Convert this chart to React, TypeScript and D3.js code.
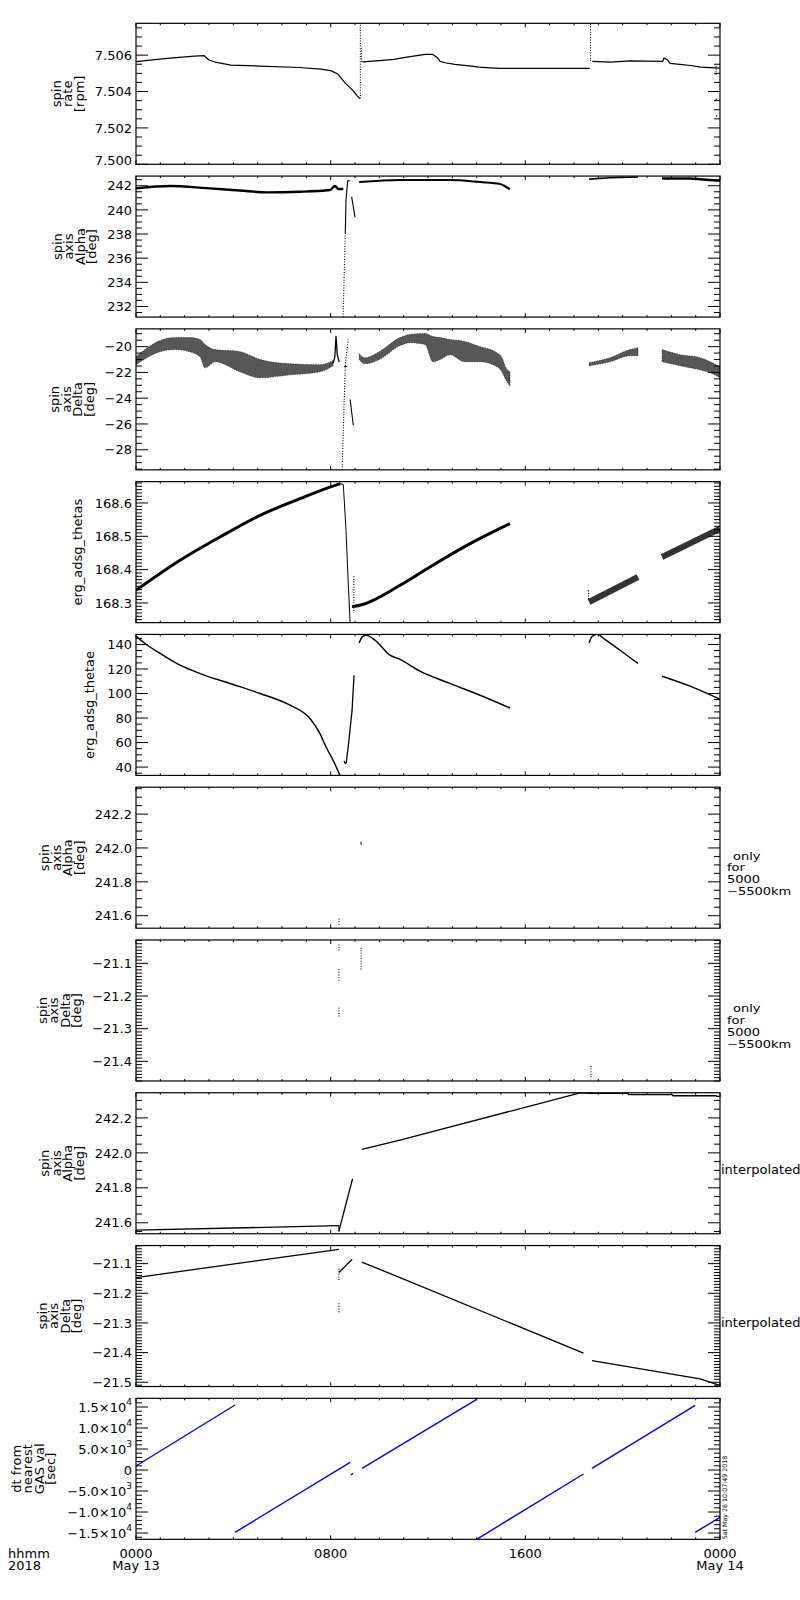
import React from 'react';
import * as d3 from 'd3';

type P = [number, number];
type B = [number, number, number];

// ---------- x axis ----------
const xDomain: [number, number] = [0, 24];
const xMajorHours = [0, 8, 16, 24];
const xMajorLabels = ['0000', '0800', '1600', '0000'];
const xDateLabels = ['May 13', '', '', 'May 14'];
const xCornerLabels = ['hhmm', '2018'];
const stampText = 'Sat May 26 10:07:49 2018';

// ---------- panel 1 : spin rate ----------
const rateSeg1: P[] = [[0, 7.50564], [0.58, 7.50573], [1.4, 7.50584], [2.4, 7.50595], [2.8, 7.50597], [3.0, 7.50573], [3.25, 7.50562], [3.9, 7.50545], [5.1, 7.5054], [6.7, 7.50532], [7.6, 7.50523], [8.0, 7.50515], [8.3, 7.50496], [8.6, 7.50446], [8.9, 7.50408], [9.1, 7.50375], [9.2, 7.50361]];
const rateSeg2: P[] = [[9.3, 7.50563], [10.0, 7.5057], [10.6, 7.50577], [11.0, 7.50586], [11.4, 7.50595], [11.9, 7.50604], [12.2, 7.50604], [12.4, 7.50584], [12.5, 7.50566], [12.7, 7.50558], [13.1, 7.50549], [13.7, 7.50541], [14.1, 7.50534], [14.55, 7.5053], [14.95, 7.50527], [18.65, 7.50527]];
const rateSeg3: P[] = [[18.75, 7.50566], [19.5, 7.50562], [20.3, 7.50568], [21.65, 7.50566], [21.7, 7.50584], [21.85, 7.50573], [21.95, 7.50555], [22.35, 7.50549], [22.8, 7.50543], [23.2, 7.50534], [24, 7.50529]];
const rateSpike1: P[] = [[9.22, 7.50361], [9.22, 7.5077]];
const rateSpike2: P[] = [[9.27, 7.5064], [9.27, 7.5056]];
const rateSpike3: P[] = [[18.68, 7.50566], [18.68, 7.50777]];
const rateSpike4: P[] = [[23.84, 7.5054], [23.84, 7.5049]];
const rateDots: P[] = [[23.84, 7.50358], [23.86, 7.50266]];

// ---------- panel 2 : spin axis Alpha ----------
const alphaSeg1: P[] = [[0, 241.78], [1.4, 241.98], [2.9, 241.8], [4.27, 241.6], [5.37, 241.45], [6.74, 241.5], [7.97, 241.65], [8.18, 241.98], [8.31, 241.73], [8.52, 241.73]];
const alphaDrop: P[] = [[8.51, 231.12], [8.6, 238.0]];
const alphaRise: P[] = [[8.6, 238.0], [8.63, 240.8], [8.7, 242.4], [8.78, 242.42]];
const alphaArc: P[] = [[8.86, 241.1], [8.92, 240.4], [9.0, 239.4]];
const alphaSeg2: P[] = [[9.17, 242.3], [10.85, 242.47], [12.9, 242.47], [14.14, 242.3], [14.96, 242.14], [15.17, 241.95], [15.37, 241.7]];
const alphaSeg3: P[] = [[18.62, 242.55], [19.48, 242.66], [20.63, 242.72]];
const alphaSeg4: P[] = [[21.62, 242.6], [22.77, 242.6], [24, 242.41]];

// ---------- panel 3 : spin axis Delta (band: hour, upper, lower) ----------
const deltaBand1: B[] = [[0, -20.78, -21.41], [0.99, -19.53, -20.39], [1.6, -19.3, -20.23], [2.2, -19.3, -20.39], [2.63, -19.45, -20.78], [2.84, -19.84, -21.64], [3.25, -20.23, -21.17], [4.27, -20.39, -21.95], [5.1, -21.0, -22.42], [6.33, -21.33, -22.19], [7.56, -21.4, -21.95], [8.1, -21.09, -21.48]];
const deltaSpike: P[] = [[8.1, -21.3], [8.17, -20.8], [8.22, -19.2], [8.27, -20.6], [8.35, -21.2]];
const deltaDrop: P[] = [[8.47, -29.56], [8.6, -21.5], [8.72, -19.45]];
const deltaArc: P[] = [[8.8, -24.1], [8.93, -26.1]];
const deltaDash: P[] = [[8.55, -21.55], [8.68, -21.55]];
const deltaBand2: B[] = [[9.17, -20.55, -21.0], [9.4, -20.86, -21.33], [10.0, -20.39, -21.0], [10.85, -19.3, -19.92], [11.26, -19.06, -19.69], [11.88, -18.98, -19.84], [12.2, -19.22, -21.17], [12.5, -19.3, -21.0], [12.9, -19.45, -20.63], [13.5, -19.6, -21.17], [14.14, -20.0, -21.17], [14.76, -20.39, -21.48], [15.04, -20.86, -21.95], [15.2, -21.64, -22.58], [15.37, -21.95, -23.05]];
const deltaBand3: B[] = [[18.62, -21.25, -21.48], [19.48, -20.86, -21.17], [20.3, -20.23, -20.7], [20.63, -20.08, -20.7]];
const deltaBand4: B[] = [[21.62, -20.23, -21.17], [22.36, -20.63, -21.48], [23.18, -20.86, -21.8], [23.6, -21.17, -22.03], [24, -21.56, -22.42]];

// ---------- panel 4 : erg_adsg_thetas ----------
const thetasSeg1: P[] = [[0, 168.338], [1.81, 168.428], [3.45, 168.498], [5.1, 168.563], [6.74, 168.613], [8.18, 168.653], [8.4, 168.658]];
const thetasDrop: P[] = [[8.4, 168.658], [8.52, 168.655], [8.63, 168.518], [8.73, 168.348], [8.8, 168.241]];
const thetasDots: P[] = [[8.95, 168.38], [8.95, 168.27]];
const thetasSeg2: P[] = [[8.88, 168.289], [9.2, 168.293], [10.85, 168.353], [12.08, 168.408], [13.73, 168.478], [15.37, 168.538]];
const thetasLead: P[] = [[18.6, 168.338], [18.6, 168.31]];
const thetasSeg3: P[] = [[18.62, 168.303], [20.63, 168.378]];
const thetasSeg4: P[] = [[21.62, 168.438], [24, 168.523]];

// ---------- panel 5 : erg_adsg_thetae ----------
const thetaeSeg1: P[] = [[0, 146.8], [0.37, 140.8], [0.99, 132.7], [1.81, 123.1], [2.63, 116.3], [3.86, 108.2], [5.1, 100], [6.33, 90.5], [7.15, 79.6], [7.56, 67.3], [7.81, 56.4], [8.1, 45.5], [8.38, 33.3]];
const thetaeSeg2: P[] = [[8.55, 45.0], [8.6, 42.9], [8.64, 43.5], [8.72, 56.4], [8.88, 86.4], [8.96, 115]];
const thetaeSeg3: P[] = [[9.17, 141.3], [9.3, 146.2], [9.45, 147.6], [9.82, 143.5], [10.44, 131.3], [10.85, 127.8], [11.67, 118.2], [12.9, 108.2], [14.14, 98.6], [15.37, 88.2]];
const thetaeSeg4: P[] = [[18.62, 141.3], [18.74, 146.5], [18.95, 148.2], [19.28, 143.9], [19.89, 135.3], [20.63, 124.5]];
const thetaeSeg5: P[] = [[21.62, 114.1], [22.77, 106], [24, 95.3]];

// ---------- panel 6 : Alpha (5000-5500km) ----------
const alphaKmA: P[] = [[9.25, 242.037], [9.25, 242.019]];
const alphaKmB: P[] = [[8.34, 241.582], [8.34, 241.539]];

// ---------- panel 7 : Delta (5000-5500km) ----------
const deltaKmA: P[] = [[8.34, -21.042], [8.34, -21.062]];
const deltaKmB: P[] = [[8.34, -21.118], [8.34, -21.157]];
const deltaKmC: P[] = [[8.34, -21.236], [8.34, -21.263]];
const deltaKmD: P[] = [[9.25, -21.052], [9.25, -21.121]];
const deltaKmE: P[] = [[18.7, -21.414], [18.7, -21.455]];

// ---------- panel 8 : Alpha interpolated ----------
const alphaIntSeg1: P[] = [[0, 241.558], [8.34, 241.583]];
const alphaIntTick: P[] = [[8.34, 241.583], [8.34, 241.548]];
const alphaIntSeg2: P[] = [[8.34, 241.554], [8.9, 241.852]];
const alphaIntSeg3: P[] = [[9.28, 242.02], [10.85, 242.073], [18.25, 242.343], [18.74, 242.34], [20.22, 242.34], [20.25, 242.333], [22.03, 242.333], [22.06, 242.327], [23.84, 242.327], [23.87, 242.323], [24, 242.323]];

// ---------- panel 9 : Delta interpolated ----------
const deltaIntSeg1: P[] = [[0, -21.147], [8.34, -21.052]];
const deltaIntDotsA: P[] = [[8.34, -21.117], [8.34, -21.156]];
const deltaIntDotsB: P[] = [[8.34, -21.234], [8.34, -21.264]];
const deltaIntSeg2: P[] = [[8.34, -21.13], [8.88, -21.085]];
const deltaIntSeg3: P[] = [[9.28, -21.095], [10.85, -21.147], [18.39, -21.402]];
const deltaIntSeg4: P[] = [[18.74, -21.427], [23.18, -21.489], [24, -21.511]];

// ---------- panel 10 : dt from nearest GAS val ----------
const dtSeg1: P[] = [[0, 952], [4.07, 15476]];
const dtSeg2: P[] = [[4.07, -14833], [8.8, 1833]];
const dtSeg3: P[] = [[8.83, -1190], [8.92, -790]];
const dtSeg4: P[] = [[9.29, 400], [14.0, 16833]];
const dtSeg5: P[] = [[14.0, -16500], [18.39, -952]];
const dtSeg6: P[] = [[18.74, 400], [22.98, 15400]];
const dtSeg7: P[] = [[22.98, -14833], [24, -11262]];

// ---------- axis ranges / titles ----------
const yDomains: [number, number][] = [
  [7.5, 7.50775], [231.12, 242.8], [-29.56, -18.62], [168.241, 168.664], [33.2, 148.2],
  [241.526, 242.359], [-21.46, -21.0285], [241.537, 242.344], [-21.5145, -21.039], [-16500, 17070],
];
const yMajorSteps = [0.002, 2, 2, 0.1, 20, 0.2, 0.1, 0.2, 0.1, 5000];
const yMinorSteps = [0.0005, 0.5, 0.5, 0.01, 5, 0.05, 0.01, 0.05, 0.01, 1000];
const yDecimals = [3, 0, 0, 1, 0, 1, 1, 1, 1, -1];
const yTitles: string[][] = [
  ['spin', 'rate', '[rpm]'],
  ['spin', 'axis', 'Alpha', '[deg]'],
  ['spin', 'axis', 'Delta', '[deg]'],
  ['erg_adsg_thetas'],
  ['erg_adsg_thetae'],
  ['spin', 'axis', 'Alpha', '[deg]'],
  ['spin', 'axis', 'Delta', '[deg]'],
  ['spin', 'axis', 'Alpha', '[deg]'],
  ['spin', 'axis', 'Delta', '[deg]'],
  ['dt from', 'nearest', 'GAS val', '[sec]'],
];
const rightNotes: string[][] = [[], [], [], [], [], ['only', 'for', '5000', '\u22125500km'], ['only', 'for', '5000', '\u22125500km'], ['interpolated'], ['interpolated'], []];

type Seg = { pts?: P[]; band?: B[]; kind: 'line' | 'dash' | 'dots' | 'band'; w?: number; color?: string; smooth?: boolean; op?: number };

const panelSegs: Seg[][] = [
  [
    { pts: rateSeg1, kind: 'line', w: 1.2 }, { pts: rateSeg2, kind: 'line', w: 1.2 }, { pts: rateSeg3, kind: 'line', w: 1.2 },
    { pts: rateSpike1, kind: 'dash' }, { pts: rateSpike2, kind: 'dash' }, { pts: rateSpike3, kind: 'dash' }, { pts: rateSpike4, kind: 'dash' },
    { pts: rateDots, kind: 'dots' },
  ],
  [
    { pts: alphaSeg1, kind: 'line', w: 2.4, smooth: true }, { pts: alphaDrop, kind: 'dash' }, { pts: alphaRise, kind: 'line', w: 1.1 },
    { pts: alphaArc, kind: 'line', w: 1.1 }, { pts: alphaSeg2, kind: 'line', w: 2, smooth: true }, { pts: alphaSeg3, kind: 'line', w: 1.6 },
    { pts: alphaSeg4, kind: 'line', w: 2.6 },
  ],
  [
    { band: deltaBand1, kind: 'band' }, { pts: deltaSpike, kind: 'line', w: 1.3 }, { pts: deltaDrop, kind: 'dash' },
    { pts: deltaArc, kind: 'line', w: 1.1 }, { pts: deltaDash, kind: 'line', w: 1 }, { band: deltaBand2, kind: 'band' },
    { band: deltaBand3, kind: 'band' }, { band: deltaBand4, kind: 'band' },
  ],
  [
    { pts: thetasSeg1, kind: 'line', w: 3, smooth: true }, { pts: thetasDrop, kind: 'line', w: 1 }, { pts: thetasDots, kind: 'dash' },
    { pts: thetasSeg2, kind: 'line', w: 3, smooth: true }, { pts: thetasLead, kind: 'dash' }, { pts: thetasSeg3, kind: 'line', w: 6, op: 0.8 },
    { pts: thetasSeg4, kind: 'line', w: 6, op: 0.8 },
  ],
  [
    { pts: thetaeSeg1, kind: 'line', w: 1.4, smooth: true }, { pts: thetaeSeg2, kind: 'line', w: 1.3 }, { pts: thetaeSeg3, kind: 'line', w: 1.4, smooth: true },
    { pts: thetaeSeg4, kind: 'line', w: 1.4, smooth: true }, { pts: thetaeSeg5, kind: 'line', w: 1.4, smooth: true },
  ],
  [{ pts: alphaKmA, kind: 'line', w: 1 }, { pts: alphaKmB, kind: 'dash' }],
  [
    { pts: deltaKmA, kind: 'dash' }, { pts: deltaKmB, kind: 'dash' }, { pts: deltaKmC, kind: 'dash' },
    { pts: deltaKmD, kind: 'dash' }, { pts: deltaKmE, kind: 'dash' },
  ],
  [
    { pts: alphaIntSeg1, kind: 'line', w: 1.3 }, { pts: alphaIntTick, kind: 'line', w: 1 },
    { pts: alphaIntSeg2, kind: 'line', w: 1.3 }, { pts: alphaIntSeg3, kind: 'line', w: 1.3 },
  ],
  [
    { pts: deltaIntSeg1, kind: 'line', w: 1.3 }, { pts: deltaIntDotsA, kind: 'dash' }, { pts: deltaIntDotsB, kind: 'dash' },
    { pts: deltaIntSeg2, kind: 'line', w: 1.3 }, { pts: deltaIntSeg3, kind: 'line', w: 1.3 }, { pts: deltaIntSeg4, kind: 'line', w: 1.3 },
  ],
  [
    { pts: dtSeg1, kind: 'line', w: 1.4, color: '#0000ff' }, { pts: dtSeg2, kind: 'line', w: 1.4, color: '#0000ff' },
    { pts: dtSeg3, kind: 'line', w: 1.4, color: '#0000ff' }, { pts: dtSeg4, kind: 'line', w: 1.4, color: '#0000ff' },
    { pts: dtSeg5, kind: 'line', w: 1.4, color: '#0000ff' }, { pts: dtSeg6, kind: 'line', w: 1.4, color: '#0000ff' },
    { pts: dtSeg7, kind: 'line', w: 1.4, color: '#0000ff' },
  ],
];

// ---------- layout ----------
const W = 800, H = 1600;
const X0 = 136, X1 = 720;
const TOP0 = 23.3, PITCH = 152.78, PH = 141;
const FONT = '"DejaVu Sans", Verdana, sans-serif';
const FS = 13;
const NOTE_FS = 10;
const NOTE_PITCH = 11.7;

let measureCtx: CanvasRenderingContext2D | null = null;
function textWidth(s: string, size: number): number {
  try {
    if (!measureCtx) measureCtx = document.createElement('canvas').getContext('2d');
    if (measureCtx) {
      measureCtx.font = `${size}px "DejaVu Sans"`;
      return measureCtx.measureText(s).width;
    }
  } catch (e) { /* ignore */ }
  return s.length * size * 0.62;
}

function stepTicks(dom: [number, number], step: number): number[] {
  const k0 = Math.ceil(dom[0] / step - 1e-7);
  const k1 = Math.floor(dom[1] / step + 1e-7);
  const out: number[] = [];
  for (let k = k0; k <= k1; k++) out.push(+(k * step).toFixed(8));
  return out;
}

function fmtLabel(v: number, dec: number): { main: string; sup?: string } {
  if (dec >= 0) return { main: v.toFixed(dec).replace('-', '\u2212') };
  if (v === 0) return { main: '0' };
  const e = Math.floor(Math.log10(Math.abs(v)) + 1e-9);
  const m = v / Math.pow(10, e);
  return { main: m.toFixed(1).replace('-', '\u2212') + '\u00d710', sup: String(e) };
}

function Panel({ i }: { i: number }) {
  const top = TOP0 + i * PITCH;
  const bottom = top + PH;
  const dom = yDomains[i];
  const x = d3.scaleLinear().domain(xDomain).range([X0, X1]);
  const y = d3.scaleLinear().domain(dom).range([bottom, top]);
  const line = d3.line<P>().x(d => x(d[0])).y(d => y(d[1]));
  const smoothLine = d3.line<P>().x(d => x(d[0])).y(d => y(d[1])).curve(d3.curveMonotoneX);
  const area = d3.area<B>().x(d => x(d[0])).y0(d => y(d[2])).y1(d => y(d[1])).curve(d3.curveMonotoneX);
  const majors = stepTicks(dom, yMajorSteps[i]);
  const minorsAll = stepTicks(dom, yMinorSteps[i]);
  const minors = minorsAll.filter(v => !majors.some(m => Math.abs(m - v) < yMinorSteps[i] * 0.01));
  const labels = majors.map(v => fmtLabel(v, yDecimals[i]));
  const widths = labels.map(l => textWidth(l.main, FS) + (l.sup ? textWidth(l.sup, 9) + 1 : 0));
  const maxW = Math.max(...widths);
  const labelRight = X0 - 4;
  const titleLines = yTitles[i];
  const multi = titleLines.length > 1;
  const lastBase = labelRight - maxW - (multi ? 11 : 13);
  const cy = (top + bottom) / 2;
  const hoursAll = d3.range(0, 25);
  const clipId = `clip${i}`;
  const notes = rightNotes[i];

  return (
    <g>
      <defs>
        <clipPath id={clipId}>
          <rect x={X0} y={top} width={X1 - X0} height={PH} />
        </clipPath>
      </defs>
      {/* data */}
      <g clipPath={`url(#${clipId})`}>
        {panelSegs[i].map((s, k) => {
          const col = s.color || '#000';
          if (s.kind === 'band' && s.band) {
            return <path key={k} d={area(s.band) || ''} fill={col} fillOpacity={0.66} stroke={col} strokeOpacity={0.6} strokeWidth={0.9} strokeDasharray="1.5 1" />;
          }
          if (s.kind === 'dots' && s.pts) {
            return (
              <g key={k}>
                {s.pts.map((p, j) => <rect key={j} x={x(p[0]) - 0.6} y={y(p[1]) - 0.6} width={1.3} height={1.3} fill={col} />)}
              </g>
            );
          }
          if (s.kind === 'dash' && s.pts) {
            return <path key={k} d={line(s.pts) || ''} fill="none" stroke={col} strokeWidth={1.1} strokeDasharray="1 1.6" />;
          }
          const gen = s.smooth ? smoothLine : line;
          return <path key={k} d={gen(s.pts || []) || ''} fill="none" stroke={col} strokeOpacity={s.op || 1} strokeWidth={s.w || 1} strokeLinejoin="round" />;
        })}
      </g>
      {/* frame */}
      <rect x={X0} y={top} width={X1 - X0} height={PH} fill="none" stroke="#000" strokeWidth={1.2} />
      {/* x ticks */}
      {hoursAll.map(h => {
        const len = xMajorHours.includes(h) ? 4 : 2;
        const xx = x(h);
        return (
          <g key={`xt${h}`}>
            <line x1={xx} x2={xx} y1={top} y2={top + len} stroke="#000" strokeWidth={1} />
            <line x1={xx} x2={xx} y1={bottom} y2={bottom - len} stroke="#000" strokeWidth={1} />
          </g>
        );
      })}
      {/* y ticks both sides */}
      {majors.map(v => (
        <g key={`ym${v}`}>
          <line x1={X0} x2={X0 + 12} y1={y(v)} y2={y(v)} stroke="#000" strokeWidth={1} />
          <line x1={X1} x2={X1 - 12} y1={y(v)} y2={y(v)} stroke="#000" strokeWidth={1} />
        </g>
      ))}
      {minors.map(v => (
        <g key={`yn${v}`}>
          <line x1={X0} x2={X0 + 6} y1={y(v)} y2={y(v)} stroke="#000" strokeWidth={1} />
          <line x1={X1} x2={X1 - 6} y1={y(v)} y2={y(v)} stroke="#000" strokeWidth={1} />
        </g>
      ))}
      {/* y tick labels */}
      {majors.map((v, k) => {
        const yy = Math.min(y(v), bottom - 4);
        const l = labels[k];
        return (
          <text key={`yl${v}`} x={labelRight} y={yy} dy="0.36em" textAnchor="end" fontSize={FS} fontFamily={FONT} fill="#000">
            {l.main}
            {l.sup ? <tspan fontSize={9} dy="-0.75em">{l.sup}</tspan> : null}
          </text>
        );
      })}
      {/* y title */}
      <text fontSize={FS} fontFamily={FONT} fill="#000" textAnchor="middle" transform={`translate(${lastBase - (titleLines.length - 1) * 11.5},${cy}) rotate(-90)`}>
        {titleLines.map((t, j) => (
          <tspan key={`tt${j}`} x={0} y={j * 11.5}>{t}</tspan>
        ))}
      </text>
      {/* right notes */}
      {notes.length === 1 ? (
        <text x={X1 + 1} y={cy + 11} fontSize={FS} fontFamily={FONT} fill="#000">{notes[0]}</text>
      ) : notes.map((t, j) => (
        <text key={`rn${j}`} x={X1 + (j === 0 ? 13 : 7)} y={cy + 2 + j * NOTE_PITCH} fontSize={NOTE_FS} fontFamily={FONT} fill="#000"
          textLength={textWidth(t, FS)} lengthAdjust="spacingAndGlyphs">{t}</text>
      ))}
    </g>
  );
}

export default function App() {
  const x = d3.scaleLinear().domain(xDomain).range([X0, X1]);
  const lastBottom = TOP0 + 9 * PITCH + PH;
  const panels = d3.range(10);
  return (
    <svg width={W} height={H} viewBox={`0 0 ${W} ${H}`} style={{ position: 'absolute', left: 0, top: 0, background: '#fff' }}>
      <rect x={0} y={0} width={W} height={H} fill="#fff" />
      {panels.map(i => <Panel key={i} i={i} />)}
      {xMajorHours.map((h, k) => (
        <text key={`xl${k}`} textAnchor="middle" fontSize={FS} fontFamily={FONT} fill="#000">
          <tspan x={x(h)} y={lastBottom + 19}>{xMajorLabels[k]}</tspan>
          {xDateLabels[k] ? <tspan x={x(h)} y={lastBottom + 31}>{xDateLabels[k]}</tspan> : null}
        </text>
      ))}
      <text fontSize={FS} fontFamily={FONT} fill="#000">
        <tspan x={8} y={lastBottom + 19}>{xCornerLabels[0]}</tspan>
        <tspan x={8} y={lastBottom + 31}>{xCornerLabels[1]}</tspan>
      </text>
      <text transform={`translate(${X1 + 6.5},${lastBottom}) rotate(-90)`} fontSize={6.3} fontFamily={FONT} fill="#000">{stampText}</text>
    </svg>
  );
}
